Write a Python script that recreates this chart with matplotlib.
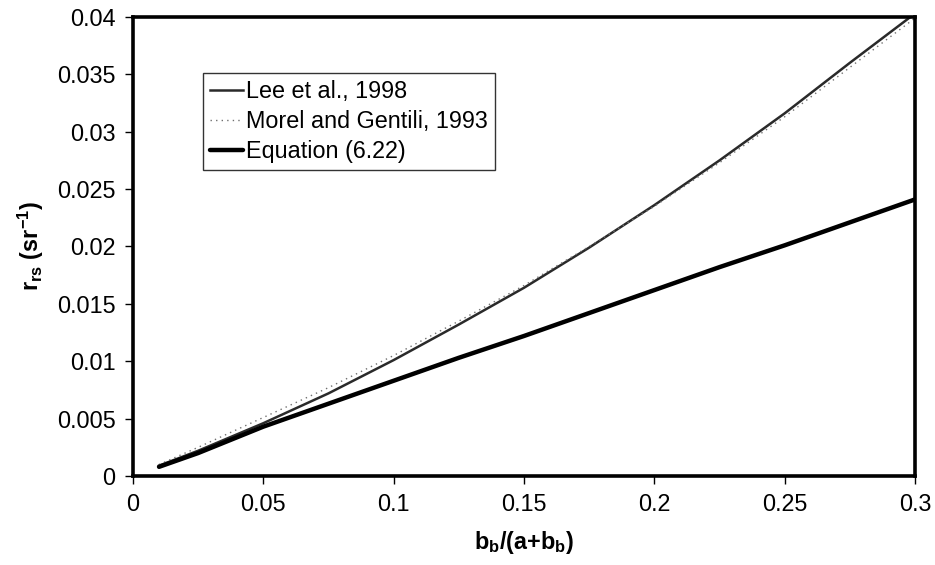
import matplotlib
matplotlib.use("Agg")
import matplotlib.pyplot as plt

plt.rcParams["font.family"] = ["Liberation Sans", "DejaVu Sans"]
plt.rcParams["mathtext.fontset"] = "custom"
plt.rcParams["mathtext.rm"] = "Liberation Sans"
plt.rcParams["mathtext.it"] = "Liberation Sans:italic"
plt.rcParams["mathtext.bf"] = "Liberation Sans:bold"

# values
BB_RATIO = [0.01, 0.025, 0.05, 0.075, 0.1, 0.125, 0.15, 0.175, 0.2, 0.225, 0.25, 0.275, 0.3]
LEE_1998 = [0.0009, 0.0022, 0.0046, 0.0072, 0.0101, 0.0132, 0.0164, 0.0199, 0.0236, 0.0275, 0.0316, 0.0360, 0.0403]
MOREL_1993 = [0.0010, 0.0025, 0.0051, 0.0077, 0.0105, 0.0135, 0.0166, 0.0200, 0.0235, 0.0273, 0.0313, 0.0356, 0.0399]
EQ_622 = [0.0008, 0.0020, 0.0043, 0.0063, 0.0083, 0.0103, 0.0122, 0.0142, 0.0162, 0.0182, 0.0201, 0.0221, 0.0241]

X_TICKS = [0, 0.05, 0.1, 0.15, 0.2, 0.25, 0.3]
X_TICK_LABELS = ["0", "0.05", "0.1", "0.15", "0.2", "0.25", "0.3"]
Y_TICKS = [0, 0.005, 0.01, 0.015, 0.02, 0.025, 0.03, 0.035, 0.04]
Y_TICK_LABELS = ["0", "0.005", "0.01", "0.015", "0.02", "0.025", "0.03", "0.035", "0.04"]

FS = 16.8
FS_LEGEND = 16.8

fig = plt.figure(figsize=(9.35, 5.65), dpi=100, facecolor="white")
ax = fig.add_axes([0.1422, 0.1575, 0.8364, 0.8125])

ax.plot(BB_RATIO, LEE_1998, color="#2a2a2a", linewidth=1.8, label="Lee et al., 1998")
ax.plot(BB_RATIO, MOREL_1993, color="#707070", linewidth=1.0, linestyle=(0, (1, 3)),
        label="Morel and Gentili, 1993")
ax.plot(BB_RATIO, EQ_622, color="black", linewidth=3.2, solid_capstyle="round",
        label="Equation (6.22)")

ax.set_xlim(0, 0.3)
ax.set_ylim(0, 0.04)
ax.set_xticks(X_TICKS)
ax.set_xticklabels(X_TICK_LABELS)
ax.set_yticks(Y_TICKS)
ax.set_yticklabels(Y_TICK_LABELS)
ax.tick_params(direction="out", length=5.5, width=1, labelsize=FS, colors="black", pad=7)

for spine in ax.spines.values():
    spine.set_linewidth(2.6)
    spine.set_color("black")

ax.set_xlabel(r"b$_{\mathbf{b}}$/(a+b$_{\mathbf{b}}$)", fontsize=FS, fontweight="bold", labelpad=9)
ax.set_ylabel(r"r$_{\mathbf{rs}}$ (sr$^{\mathbf{-1}}$)", fontsize=FS, fontweight="bold", labelpad=8)

leg = ax.legend(loc="upper left", bbox_to_anchor=(0.0895, 0.878), borderaxespad=0,
                fontsize=FS_LEGEND, frameon=True, fancybox=False, handlelength=1.4,
                handletextpad=0.15, labelspacing=0.3, borderpad=0.3)
leg.get_frame().set_edgecolor("black")
leg.get_frame().set_linewidth(1.0)

fig.savefig("out.png", dpi=100)
